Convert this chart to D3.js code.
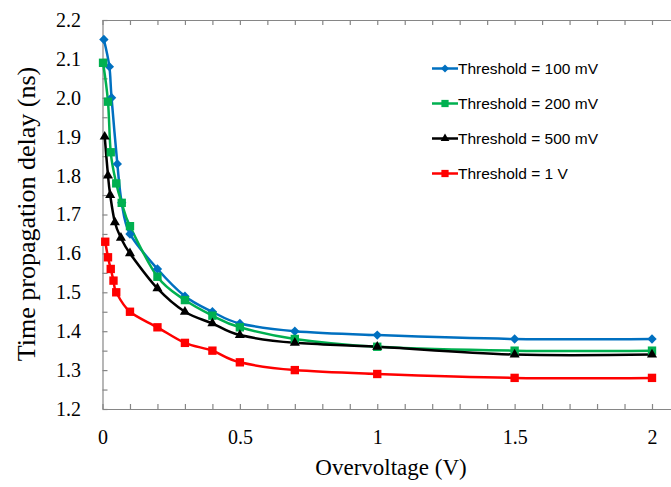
<!DOCTYPE html>
<html>
<head>
<meta charset="utf-8">
<script src="https://cdn.jsdelivr.net/npm/d3@7"></script>
<style>
  body { margin: 0; background: #fff; }
  svg { display: block; }
  .tick text { font-family: "Liberation Serif", "Times New Roman", serif; font-size: 20px; fill: #000; }
</style>
</head>
<body>
<div class="container"></div>
<script>
// values
var overvoltage = [0.01, 0.02, 0.03, 0.04, 0.05, 0.1, 0.2, 0.3, 0.4, 0.5, 0.7, 1, 1.5, 2];

var x100 = [0.005, 0.025, 0.033, 0.054, 0.07, 0.1, 0.2, 0.3, 0.4, 0.5, 0.7, 1, 1.5, 2];
var y100 = [2.15, 2.08, 2.00, 1.83, 1.73, 1.65, 1.56, 1.49, 1.45, 1.42, 1.40, 1.39, 1.38, 1.38];

var x200 = [0.002, 0.02, 0.03, 0.05, 0.07, 0.1, 0.2, 0.3, 0.4, 0.5, 0.7, 1, 1.5, 2];
var y200 = [2.09, 1.99, 1.86, 1.78, 1.73, 1.67, 1.54, 1.48, 1.44, 1.41, 1.38, 1.36, 1.35, 1.35];

var x500 = [0.008, 0.02, 0.028, 0.045, 0.067, 0.1, 0.2, 0.3, 0.4, 0.5, 0.7, 1, 1.5, 2];
var y500 = [1.90, 1.80, 1.75, 1.68, 1.64, 1.60, 1.51, 1.45, 1.42, 1.39, 1.37, 1.36, 1.34, 1.34];

var x1v = overvoltage;
var y1v = [1.63, 1.59, 1.56, 1.53, 1.50, 1.45, 1.41, 1.37, 1.35, 1.32, 1.30, 1.29, 1.28, 1.28];

var seriesNames = ['Threshold = 100 mV', 'Threshold = 200 mV', 'Threshold = 500 mV', 'Threshold = 1 V'];
var seriesColors = ['#0070C0', '#00B050', '#000000', '#FF0000'];
var seriesSymbols = [d3.symbolDiamond2, d3.symbolSquare, d3.symbolTriangle, d3.symbolSquare];
var yTicks = d3.range(1.2, 2.2001, 0.05);
var xTicks = d3.range(0, 2.2001, 0.1);

var series = [
  { name: seriesNames[0], xs: x100, ys: y100 },
  { name: seriesNames[1], xs: x200, ys: y200 },
  { name: seriesNames[2], xs: x500, ys: y500 },
  { name: seriesNames[3], xs: x1v, ys: y1v },
];

var width = 671,
  height = 487;

var svg = d3
  .select('.container')
  .append('svg')
  .attr('width', width)
  .attr('height', height);

var x = d3.scaleLinear().domain([0, 2.2]).range([102.5, 102.5 + 274.75 * 2.2]);
var y = d3.scaleLinear().domain([1.2, 2.2]).range([409, 20]);

var axisColor = '#868686';

function styleAxis(g) {
  g.select('.domain').attr('stroke', axisColor).attr('stroke-width', 1.2);
  g.selectAll('.tick line').attr('stroke', axisColor).attr('stroke-width', 1.2);
}

function isMultiple(v, step) {
  return Math.abs(Math.round(v / step) * step - v) < 1e-6;
}

// top border with ticks
svg
  .append('g')
  .attr('transform', 'translate(0,20)')
  .call(d3.axisTop(x).tickValues(xTicks).tickSizeInner(-5).tickSizeOuter(0).tickFormat(''))
  .call(styleAxis);

// bottom axis
svg
  .append('g')
  .attr('transform', 'translate(0,409)')
  .call(
    d3
      .axisBottom(x)
      .tickValues(xTicks)
      .tickSizeInner(-5)
      .tickSizeOuter(0)
      .tickPadding(21)
      .tickFormat(function (d) {
        return isMultiple(d, 0.5) && d <= 2.0001 ? d3.format('~g')(+d.toFixed(2)) : '';
      })
  )
  .call(styleAxis);

// left axis
svg
  .append('g')
  .attr('transform', 'translate(102.5,0)')
  .call(
    d3
      .axisLeft(y)
      .tickValues(yTicks)
      .tickSizeInner(-5)
      .tickSizeOuter(0)
      .tickPadding(21.5)
      .tickFormat(function (d) {
        return isMultiple(d, 0.1) ? d3.format('.1f')(d) : '';
      })
  )
  .call(styleAxis);

// axis titles
svg
  .append('text')
  .attr('x', 391)
  .attr('y', 475)
  .attr('text-anchor', 'middle')
  .style('font-family', '"Liberation Serif", "Times New Roman", serif')
  .style('font-size', '23px')
  .text('Overvoltage (V)');

svg
  .append('text')
  .attr('transform', 'translate(35,214) rotate(-90)')
  .attr('text-anchor', 'middle')
  .style('font-family', '"Liberation Serif", "Times New Roman", serif')
  .style('font-size', '26px')
  .text('Time propagation delay (ns)');

// lines
var line = d3
  .line()
  .x(function (d) { return x(d[0]); })
  .y(function (d) { return y(d[1]); })
  .curve(d3.curveCardinal.tension(0));

var plot = svg.append('g');

series.forEach(function (s, i) {
  var pts = s.xs.map(function (v, j) { return [v, s.ys[j]]; });
  plot
    .append('path')
    .attr('d', line(pts))
    .attr('fill', 'none')
    .attr('stroke', seriesColors[i])
    .attr('stroke-width', 2.5)
    .attr('stroke-linejoin', 'round');
});

var symbolSizes = [56, 70, 44, 70];

series.forEach(function (s, i) {
  var sym = d3.symbol().type(seriesSymbols[i]).size(symbolSizes[i]);
  plot
    .selectAll('path.m' + i)
    .data(s.xs.map(function (v, j) { return [v, s.ys[j]]; }))
    .enter()
    .append('path')
    .attr('class', 'm' + i)
    .attr('d', sym)
    .attr('transform', function (d) {
      return 'translate(' + x(d[0]) + ',' + y(d[1]) + ')';
    })
    .attr('fill', seriesColors[i]);
});

// legend
var legend = svg.append('g').attr('transform', 'translate(432,68.5)');
var row = legend
  .selectAll('g')
  .data(seriesNames)
  .enter()
  .append('g')
  .attr('transform', function (d, i) { return 'translate(0,' + i * 35 + ')'; });

row
  .append('line')
  .attr('x1', 0)
  .attr('x2', 26)
  .attr('stroke', function (d, i) { return seriesColors[i]; })
  .attr('stroke-width', 2.5);

row
  .append('path')
  .attr('transform', 'translate(13,0)')
  .attr('d', function (d, i) {
    return d3.symbol().type(seriesSymbols[i]).size(symbolSizes[i] * 0.75)();
  })
  .attr('fill', function (d, i) { return seriesColors[i]; });

row
  .append('text')
  .attr('x', 26)
  .attr('dy', '0.35em')
  .style('font-family', '"Liberation Sans", Arial, sans-serif')
  .style('font-size', '15.5px')
  .text(function (d) { return d; });
</script>
</body>
</html>
